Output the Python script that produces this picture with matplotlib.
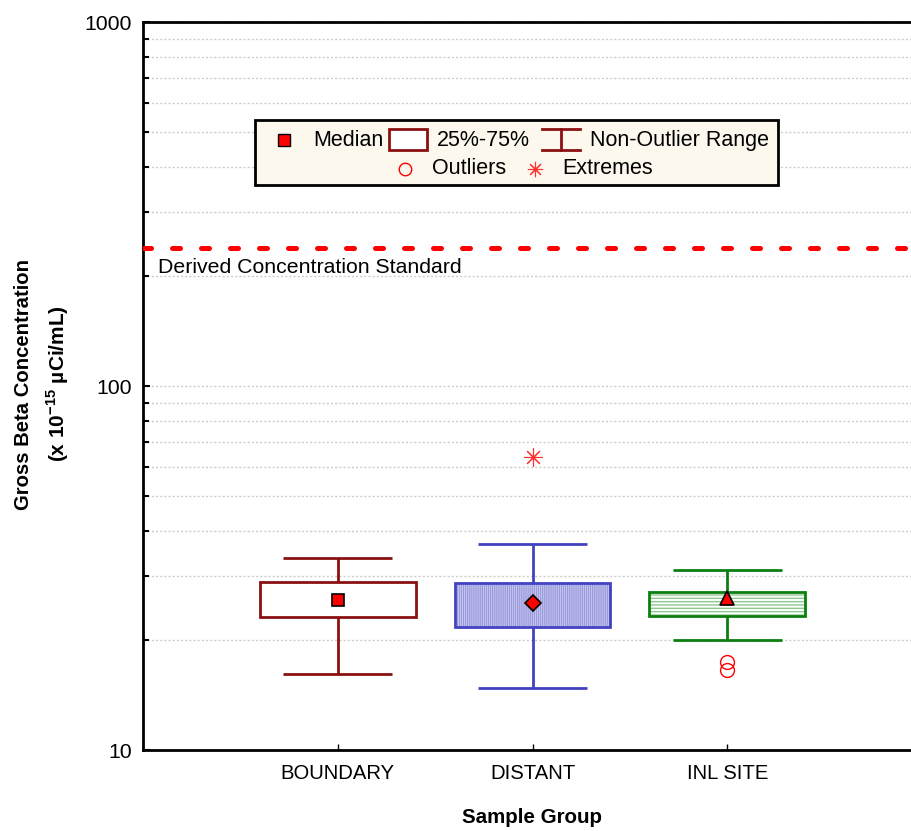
import matplotlib
matplotlib.use('Agg')
import matplotlib.pyplot as plt
from matplotlib.patches import Rectangle
from matplotlib.lines import Line2D

plt.rcParams['font.family'] = ['Liberation Sans', 'DejaVu Sans']
plt.rcParams['mathtext.fontset'] = 'custom'
plt.rcParams['mathtext.rm'] = 'Liberation Sans'
plt.rcParams['mathtext.bf'] = 'Liberation Sans:bold'

# data
groups = ['BOUNDARY', 'DISTANT', 'INL SITE']
whisk_lo = [16.2, 14.8, 20.0]
q1 = [23.2, 21.8, 23.4]
median = [25.9, 25.3, 26.2]
q3 = [29.0, 28.7, 27.2]
whisk_hi = [33.7, 36.8, 31.2]
outlier_x = [3, 3]
outlier_y = [17.5, 16.6]
extreme_x = [2]
extreme_y = [63.7]
dcs = 240

# styles
edge_cols = ['#8b1010', '#4343c2', '#0b7f10']
face_cols = ['white', '#d6d6f2', 'white']
hatches = [None, '||||||||', '-----']
hatch_cols = ['white', '#9a9ade', '#8fc88f']
med_markers = ['s', 'D', '^']
med_sizes = [9, 8, 10]

fig = plt.figure(figsize=(9.11, 8.31), dpi=100)
ax = fig.add_axes([143/911, 81/831, 779/911, 728/831])
ax.set_yscale('log')
ax.set_ylim(10, 1000)
ax.set_xlim(0, 4)

x = [1, 2, 3]
for i in range(3):
    # box fill with hatch
    ax.bar(x[i], q3[i]-q1[i], bottom=q1[i], width=0.8, color=face_cols[i],
           hatch=hatches[i], edgecolor=hatch_cols[i], linewidth=0, zorder=2)
    ax.bar(x[i], q3[i]-q1[i], bottom=q1[i], width=0.8, fill=False,
           edgecolor=edge_cols[i], linewidth=2, zorder=3)
    # whiskers
    ax.vlines(x[i], whisk_hi[i], q3[i], color=edge_cols[i], lw=2, zorder=3)
    ax.vlines(x[i], q1[i], whisk_lo[i], color=edge_cols[i], lw=2, zorder=3)
    ax.hlines([whisk_lo[i], whisk_hi[i]], x[i]-0.28, x[i]+0.28,
              color=edge_cols[i], lw=2, zorder=3)
    ax.plot(x[i], median[i], marker=med_markers[i], ms=med_sizes[i],
            mfc='red', mec='black', mew=1.2, zorder=4)

ax.plot(outlier_x, outlier_y, 'o', ms=10, mfc='none', mec='red', mew=1, zorder=4)
ax.plot(extreme_x, extreme_y, marker=(8, 2, 0), ms=13, color='#ff3030', mew=0.8, ls='none', zorder=4)

# derived concentration standard
ax.axhline(dcs, color='red', lw=3.6, dashes=(1.6, 4.2), dash_capstyle='round', zorder=3)
ax.text(0.077, 211, 'Derived Concentration Standard', fontsize=15.3, va='center')

# axes styling
ax.set_xticks(x)
ax.set_xticklabels(groups, fontsize=14.6)
ax.set_yticks([10, 100, 1000])
ax.set_yticklabels(['10', '100', '1000'], fontsize=15.3)
ax.tick_params(axis='y', which='major', direction='in', length=5, width=1.5, pad=8)
ax.tick_params(axis='y', which='minor', direction='in', length=4, width=1.5, labelleft=False)
ax.tick_params(axis='x', direction='in', length=4, width=1, pad=10)
ax.grid(True, which='both', axis='y', color='#cccccc', lw=1, dashes=(1.5, 1.5), zorder=0)
ax.spines['right'].set_visible(False)
for s in ['left', 'bottom', 'top']:
    ax.spines[s].set_linewidth(2)

ax.set_xlabel('Sample Group', fontsize=14.8, fontweight='bold', labelpad=18)
fig.text(24/911, 1 - 385/831, 'Gross Beta Concentration', rotation=90,
         fontsize=14.6, fontweight='bold', ha='center', va='center')
fig.text(58/911, 1 - 384/831, r'(x 10$^{\mathbf{-15}}$ µCi/mL)', rotation=90,
         fontsize=15, fontweight='bold', ha='center', va='center')

# legend box
T = ax.transAxes
ax.add_patch(Rectangle((0.1438, 0.7761), 0.8151-0.1438, 0.8654-0.7761, transform=T,
                       facecolor='#fdf8ee', edgecolor='black', lw=2, zorder=5))
r1, r2 = 0.8379, 0.7981
ax.plot([0.181], [r1], 's', ms=9, mfc='red', mec='black', mew=1, transform=T, zorder=6)
ax.text(0.2182, r1, 'Median', fontsize=15.5, va='center', transform=T, zorder=6)
ax.add_patch(Rectangle((0.3158, 0.824), 0.3646-0.3158, 0.853-0.824, transform=T,
                       facecolor='white', edgecolor='#8b1010', lw=2, zorder=6))
ax.text(0.3774, r1, '25%-75%', fontsize=15.5, va='center', transform=T, zorder=6)
for seg in [([0.5122, 0.561], [0.853, 0.853]), ([0.5122, 0.561], [0.824, 0.824]),
            ([0.5366, 0.5366], [0.853, 0.824])]:
    ax.add_line(Line2D(seg[0], seg[1], color='#8b1010', lw=2, transform=T, zorder=6))
ax.text(0.5738, r1, 'Non-Outlier Range', fontsize=15.5, va='center', transform=T, zorder=6)
ax.plot([0.3363], [r2], 'o', ms=9, mfc='none', mec='red', mew=1, transform=T, zorder=6)
ax.text(0.371, r2, 'Outliers', fontsize=15.5, va='center', transform=T, zorder=6)
ax.plot([0.5032], [r2], marker=(8, 2, 0), ms=11, color='#ff3030', mew=0.8, transform=T, zorder=6)
ax.text(0.5379, r2, 'Extremes', fontsize=15.5, va='center', transform=T, zorder=6)

fig.savefig('out.png', dpi=100)
